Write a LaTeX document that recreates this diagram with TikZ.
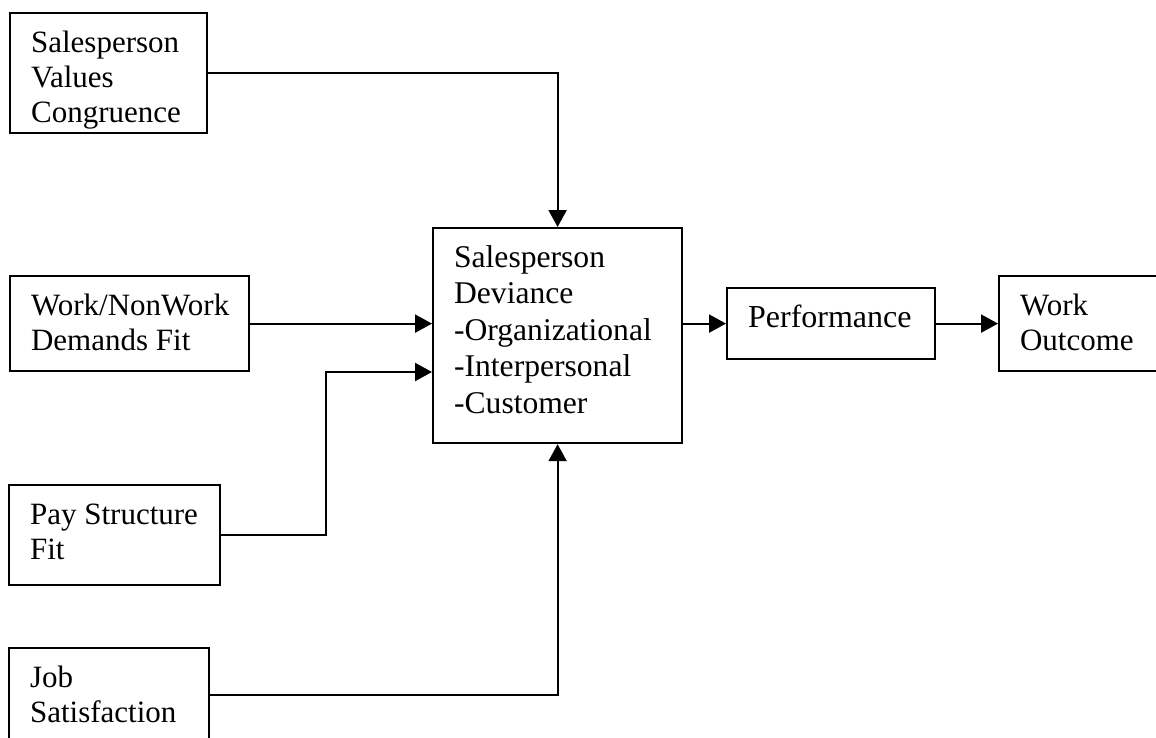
\documentclass[tikz,border=0pt]{standalone}
\usepackage{fontspec}
\setmainfont{Liberation Serif}
\usetikzlibrary{arrows.meta}
\hyphenpenalty=10000
\exhyphenpenalty=10000
\tikzset{
  block/.style={draw, line width=1.1pt, anchor=north west, align=flush left,
    inner xsep=10.5pt, inner ysep=0pt, text height=19.5pt,
    font=\fontsize{15.5}{17.5}\selectfont},
  link/.style={->, line width=1.1pt},
}

\begin{document}
\begin{tikzpicture}[x=0.5pt, y=-0.5pt, >={Triangle[length=8.5pt,width=9pt]}]
\useasboundingbox (0,0) rectangle (1156,738);
\fill[white] (0,0) rectangle (1156,738);

% antecedents
\node[block, text width=77.5pt, text depth=40.5pt] (values) at (9,12) {Salesperson\\Values\\Congruence};
\node[block, text width=98.5pt, text depth=28pt] (demands) at (9,275) {Work/NonWork\\Demands Fit};
\node[block, text width=84.5pt, text depth=30.5pt] (pay) at (8,484) {Pay Structure\\Fit};
\node[block, text width=79pt, text depth=27.5pt] (job) at (8,647) {Job\\Satisfaction};

% deviance and outcomes
\node[block, text width=103.5pt, text depth=88pt, font=\fontsize{15.8}{18.25}\selectfont] (dev) at (432,227)
  {Salesperson\\Deviance\\-Organizational\\-Interpersonal\\-Customer};
\node[block, text width=83pt, text depth=16pt, font=\fontsize{16}{17.5}\selectfont] (perf) at (726,287) {Performance};
\node[block, text width=74pt, text depth=28pt] (outcome) at (998,275) {Work\\Outcome};

\coordinate (paybend) at (326,372);

\draw[link] (values.east) -| (dev.north);
\draw[link] (demands.east) -- (demands.east -| dev.west);
\draw[link] (pay.east) -| (paybend) -- (paybend -| dev.west);
\draw[link] (job.east) -| (dev.south);
\draw[link] (dev.east |- perf.west) -- (perf.west);
\draw[link] (perf.east) -- (outcome.west);
\end{tikzpicture}
\end{document}
